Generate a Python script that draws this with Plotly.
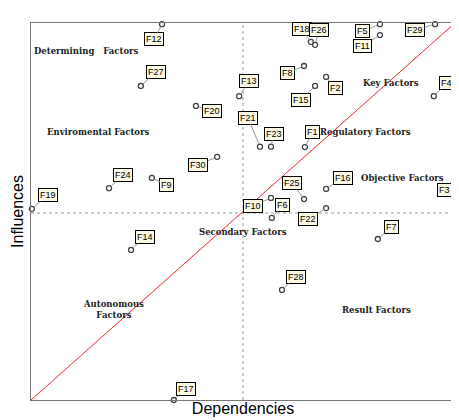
import plotly.graph_objects as go

names = ["F12","F27","F13","F20","F21","F23","F30","F24","F9","F19","F18","F26","F5","F11","F29",
         "F8","F2","F15","F4","F1","F25","F16","F3","F10","F6","F22","F7","F14","F28","F17"]
dependence = [30.9,25.9,49.1,38.9,54.0,56.6,43.9,18.4,28.5,0.2,66.0,67.0,82.3,82.3,95.3,
              64.4,69.6,67.0,95.0,64.6,64.4,69.6,100,56.6,56.8,69.6,81.8,23.6,59.2,33.7]
influence = [99.7,83.3,80.6,78.0,67.2,67.2,64.5,56.2,58.9,50.7,95.0,94.2,99.7,96.8,99.7,
             88.6,85.7,83.3,80.6,67.1,53.3,56.0,58.9,53.6,48.3,50.9,42.7,39.8,29.2,0]
label_dx = [-8,15,10,16,-12,3,-19,14,15,16,-9,4,-17,-17,-20,-17,9,-14,13,8,-12,17,-11,-18,11,-18,14,14,14,12]
label_dy = [15,-14,-15,5,-29,-13,8,-13,7,-14,-13,-15,7,11,6,7,11,14,-13,-15,-16,-11,12,8,-13,11,-12,-13,-13,-11]

zones = [("Determining   Factors",13,92.5),("Key Factors",85,84),("Enviromental Factors",16,71),
         ("Regulatory Factors",79,71),("Objective Factors",87.5,59),("Secondary Factors",50,44.5),
         ("Autonomous<br>Factors",19.5,24),("Result Factors",81.5,24)]

fig = go.Figure()
fig.add_trace(go.Scatter(x=[0,100],y=[0,100],mode="lines",line=dict(color="#e8282a",width=1),hoverinfo="skip"))
fig.add_trace(go.Scatter(x=dependence,y=influence,mode="markers",cliponaxis=False,
    marker=dict(symbol="circle-open",size=5,color="#444",line=dict(width=1.3))))

for n,x,y,dx,dy in zip(names,dependence,influence,label_dx,label_dy):
    fig.add_annotation(x=x,y=y,ax=dx,ay=dy,text=n,showarrow=True,arrowhead=0,arrowwidth=1,
        arrowcolor="#999",standoff=3,font=dict(family="Arial",size=9,color="black"),
        bgcolor="#fbf8e4",bordercolor="black",borderwidth=1,borderpad=1)
for t,x,y in zones:
    fig.add_annotation(x=x,y=y,text="<b>"+t+"</b>",showarrow=False,
        font=dict(family="DejaVu Serif",size=8.5,color="#222"))
fig.add_annotation(xref="paper",yref="paper",x=1.018,y=0.25,text="©LIPSOR-EPITA-MICMAC",textangle=90,
    showarrow=False,font=dict(size=6,color="#333"))

fig.add_shape(type="line",x0=50,x1=50,y0=0,y1=100,line=dict(color="#999",width=1,dash="dot"))
fig.add_shape(type="line",x0=0,x1=100,y0=49.6,y1=49.6,line=dict(color="#999",width=1,dash="dot"))

fig.update_layout(width=459,height=420,margin=dict(l=23,r=12,t=15,b=28,autoexpand=False),showlegend=False,
    plot_bgcolor="white",paper_bgcolor="white")
fig.update_xaxes(range=[0,100],showgrid=False,zeroline=False,showticklabels=False,ticks="",
    showline=True,linecolor="#777",mirror=True,automargin=False,
    title=dict(text="Dependencies",font=dict(family="Liberation Sans Narrow, Arial",size=16,color="black"),standoff=2))
fig.update_yaxes(range=[0,100],showgrid=False,zeroline=False,showticklabels=False,ticks="",
    showline=True,linecolor="#777",mirror=True,automargin=False,
    title=dict(text="Influences",font=dict(family="Liberation Sans Narrow, Arial",size=16,color="black"),standoff=2))
fig.write_html("out.html")
